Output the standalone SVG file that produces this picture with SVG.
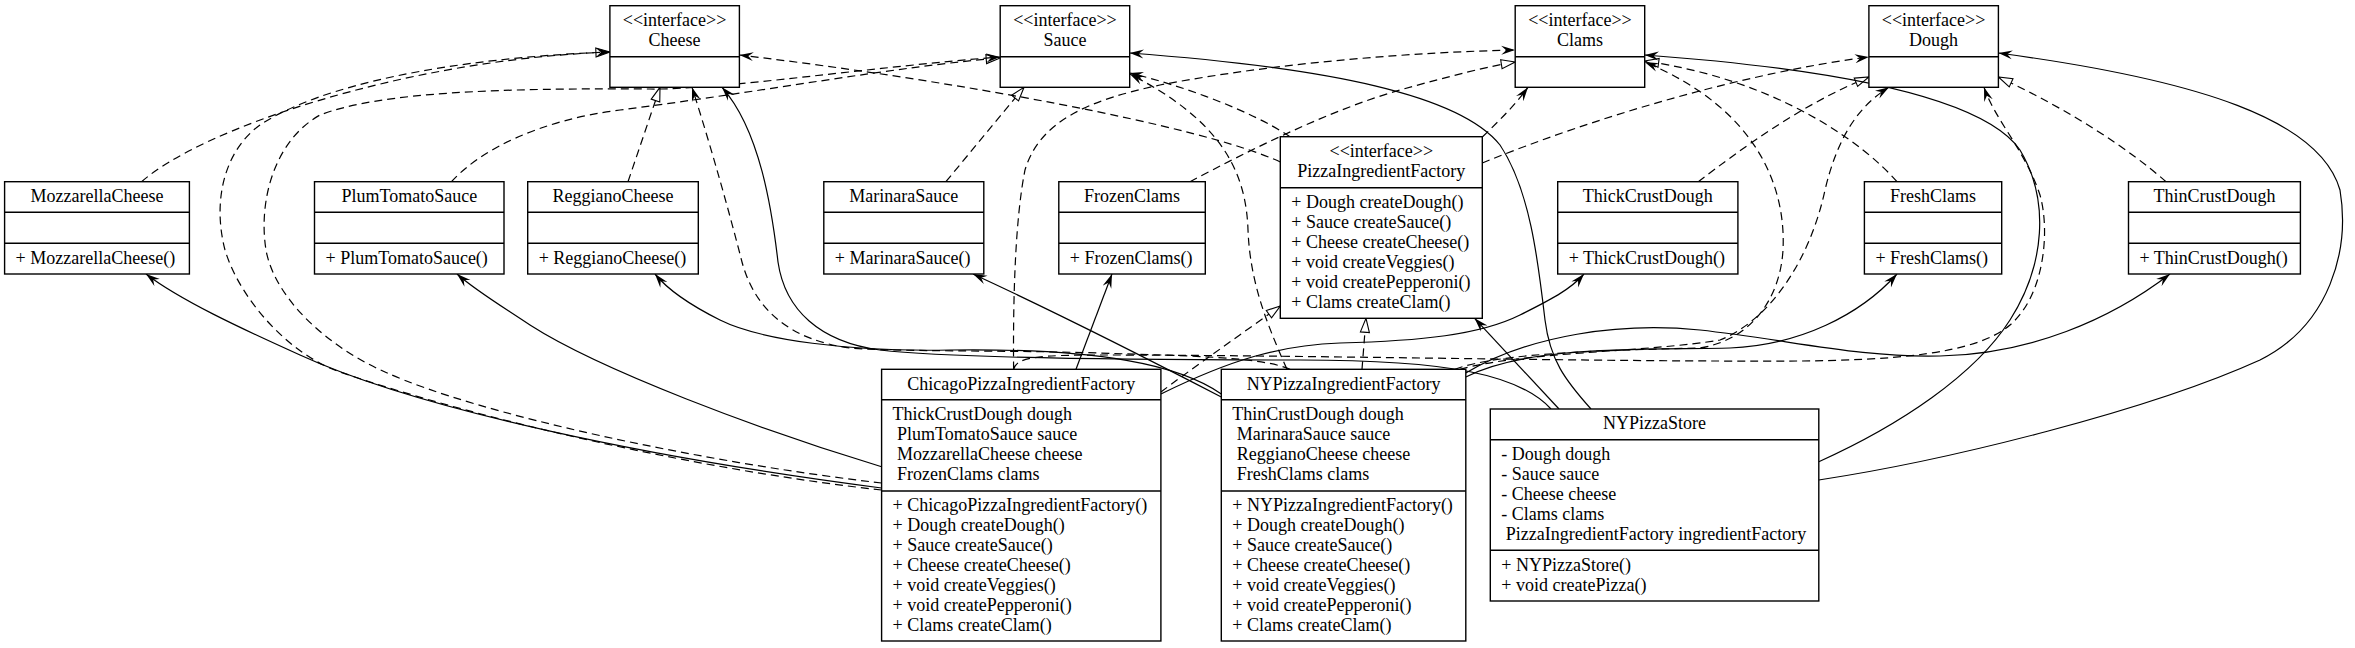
<svg xmlns="http://www.w3.org/2000/svg" width="2355" height="648" viewBox="0 0 2355 648">
<defs>
<style>
.n rect{fill:#fff;stroke:#000;stroke-width:1.4}
.n line{stroke:#000;stroke-width:1.4}
text{font-family:"Liberation Serif","Times New Roman",serif;font-size:18px;fill:#000}
.c{text-anchor:middle}
#edges path{fill:none;stroke:#000;stroke-width:1.2}
#edges path.d{stroke-dasharray:8,5}
#edges path.v{marker-end:url(#vee)}
#edges path.t{marker-end:url(#tri)}
</style>
<marker id="vee" viewBox="0 0 14 10" refX="14" refY="5" markerWidth="14" markerHeight="10" markerUnits="userSpaceOnUse" orient="auto"><path d="M0,0.5 L14,5 L0,9.5 L5,5 Z" fill="#000" stroke="none"/></marker>
<marker id="tri" viewBox="-1 -1 16 12" refX="14" refY="5" markerWidth="16" markerHeight="12" markerUnits="userSpaceOnUse" orient="auto"><path d="M0,0.5 L14,5 L0,9.5 Z" fill="#fff" stroke="#000" stroke-width="1.1" stroke-dasharray="none"/></marker>
</defs>
<rect x="0" y="0" width="2355" height="648" fill="#fff"/>

<g id="edges">
<!-- realizations -->
<path class="d t" d="M141.6,181.7 C200,130 400,60 609.9,52"/>
<path class="d t" d="M628,181.7 L660,87.3"/>
<path class="d t" d="M451.5,181.7 C480,150 540,120 620,110 C760,92 900,66 1000.2,58"/>
<path class="d t" d="M945.9,181.7 L1024,87.3"/>
<path class="d t" d="M1190,181.7 C1250,150 1330,110 1400,90 C1450,76 1490,66 1515.2,62"/>
<path class="d t" d="M1897,181.7 C1860,140 1790,95 1700,72 C1680,67 1660,63 1644.7,61"/>
<path class="d t" d="M1698.3,181.7 C1740,150 1800,105 1868.9,77"/>
<path class="d t" d="M2166,181.7 C2130,150 2070,110 1998.4,77"/>
<path class="d t" d="M1160.9,392 C1190,370 1240,335 1280.3,306"/>
<path class="d t" d="M1362,369.3 L1366,318.3"/>
<!-- dependencies -->
<path class="d v" d="M881.6,490 C700,470 480,420 340,372 C290,355 240,300 225,250 C212,200 225,150 260,125 C320,85 450,58 609.9,52"/>
<path class="d v" d="M881.6,483 C700,462 480,415 385,372 C330,348 275,300 266,250 C258,200 275,140 320,115 C380,92 500,88 650,89 C720,90 880,66 1000.2,57"/>
<path class="d v" d="M1280.3,162 C1200,125 950,80 739.4,55"/>
<path class="d v" d="M1290,136.7 C1250,110 1180,85 1129.7,73"/>
<path class="d v" d="M1287,369.3 C1265,320 1250,280 1248,230 C1246,170 1220,120 1129.7,74"/>
<path class="d v" d="M1482.3,137 C1500,120 1515,105 1528,87.3"/>
<path class="d v" d="M1482.3,163 C1600,115 1750,72 1868.9,57"/>
<path class="d v" d="M1013.6,369.3 C1013,300 1015,220 1025,170 C1040,120 1090,100 1160,85 C1280,62 1420,52 1515.2,50"/>
<path class="d v" d="M1290,369.3 C1260,356 1180,356 1100,353 C1000,350 900,352 850,348 C790,340 755,310 742,262 C730,215 712,150 692,87.3"/>
<path class="d v" d="M1455,369.3 C1500,352 1620,350 1700,348 C1750,340 1780,300 1783,250 C1786,190 1760,110 1644.7,62"/>
<path class="d v" d="M1460,369.3 C1520,352 1650,352 1720,340 C1770,320 1810,260 1825,190 C1838,135 1860,105 1889,87.3"/>
<path class="d v" d="M1013.6,369.3 C1016,357 1040,355 1100,355 C1300,355 1600,362 1800,361 C1890,360 1975,355 2010,325 C2045,295 2050,230 2040,195 C2025,150 1995,120 1984,87.3"/>
<!-- associations -->
<path class="v" d="M881.6,488 C650,458 420,410 300,355 C240,328 180,300 146,274"/>
<path class="v" d="M881.6,466.7 C760,430 600,370 530,325 C500,305 475,290 457,274"/>
<path class="v" d="M1221.3,394 C1180,365 1100,348 950,350 C850,352 760,340 720,320 C690,305 668,290 655,274"/>
<path class="v" d="M1221.3,397 C1150,360 1040,305 973,274"/>
<path class="v" d="M1076,369.3 L1112,274"/>
<path class="v" d="M1160.9,394 C1230,360 1280,345 1340,343 C1420,341 1480,335 1520,315 C1550,300 1570,290 1584,274"/>
<path class="v" d="M1465.8,377 C1530,345 1640,350 1730,348 C1800,345 1860,315 1897,274"/>
<path class="v" d="M1465.8,373 C1530,335 1620,322 1700,330 C1790,340 1860,358 1940,356 C2030,354 2110,320 2170,274"/>
<path class="v" d="M1559,409 L1474.6,318.3"/>
<path class="v" d="M1551,409 C1520,375 1450,360 1300,360 C1150,360 950,358 880,350 C820,342 785,310 778,262 C772,210 760,130 722,87.3"/>
<path class="v" d="M1591,409 C1565,380 1550,360 1545,320 C1538,260 1530,190 1500,145 C1460,95 1330,68 1129.7,53"/>
<path class="v" d="M1818.8,461.7 C1900,425 1975,375 2010,320 C2045,265 2050,200 2020,150 C1985,100 1850,70 1644.7,55"/>
<path class="v" d="M1818.8,480 C1950,460 2150,410 2260,360 C2330,325 2350,250 2340,190 C2320,120 2200,80 1998.4,53"/>
</g>

<g id="Cheese" class="n"><rect x="609.9" y="5.7" width="129.5" height="81.6"/><line x1="609.9" y1="56.7" x2="739.4" y2="56.7"/><text class="c" x="674.6" y="26.2">&lt;&lt;interface&gt;&gt;</text><text class="c" x="674.6" y="46.2">Cheese</text></g>
<g id="Sauce" class="n"><rect x="1000.2" y="5.7" width="129.5" height="81.6"/><line x1="1000.2" y1="56.7" x2="1129.7" y2="56.7"/><text class="c" x="1065" y="26.2">&lt;&lt;interface&gt;&gt;</text><text class="c" x="1065" y="46.2">Sauce</text></g>
<g id="Clams" class="n"><rect x="1515.2" y="5.7" width="129.5" height="81.6"/><line x1="1515.2" y1="56.7" x2="1644.7" y2="56.7"/><text class="c" x="1580" y="26.2">&lt;&lt;interface&gt;&gt;</text><text class="c" x="1580" y="46.2">Clams</text></g>
<g id="Dough" class="n"><rect x="1868.9" y="5.7" width="129.5" height="81.6"/><line x1="1868.9" y1="56.7" x2="1998.4" y2="56.7"/><text class="c" x="1933.6" y="26.2">&lt;&lt;interface&gt;&gt;</text><text class="c" x="1933.6" y="46.2">Dough</text></g>

<g id="MozzarellaCheese" class="n"><rect x="4.6" y="181.7" width="184.8" height="92.3"/><line x1="4.6" y1="212.3" x2="189.4" y2="212.3"/><line x1="4.6" y1="243.3" x2="189.4" y2="243.3"/><text class="c" x="97" y="202">MozzarellaCheese</text><text x="15.6" y="263.6">+ MozzarellaCheese()</text></g>
<g id="PlumTomatoSauce" class="n"><rect x="314.5" y="181.7" width="189.5" height="92.3"/><line x1="314.5" y1="212.3" x2="504" y2="212.3"/><line x1="314.5" y1="243.3" x2="504" y2="243.3"/><text class="c" x="409.3" y="202">PlumTomatoSauce</text><text x="325.5" y="263.6">+ PlumTomatoSauce()</text></g>
<g id="ReggianoCheese" class="n"><rect x="527.7" y="181.7" width="170.6" height="92.3"/><line x1="527.7" y1="212.3" x2="698.3" y2="212.3"/><line x1="527.7" y1="243.3" x2="698.3" y2="243.3"/><text class="c" x="613" y="202">ReggianoCheese</text><text x="538.7" y="263.6">+ ReggianoCheese()</text></g>
<g id="MarinaraSauce" class="n"><rect x="823.8" y="181.7" width="160" height="92.3"/><line x1="823.8" y1="212.3" x2="983.8" y2="212.3"/><line x1="823.8" y1="243.3" x2="983.8" y2="243.3"/><text class="c" x="903.8" y="202">MarinaraSauce</text><text x="834.8" y="263.6">+ MarinaraSauce()</text></g>
<g id="FrozenClams" class="n"><rect x="1058.8" y="181.7" width="146.5" height="92.3"/><line x1="1058.8" y1="212.3" x2="1205.3" y2="212.3"/><line x1="1058.8" y1="243.3" x2="1205.3" y2="243.3"/><text class="c" x="1132" y="202">FrozenClams</text><text x="1069.8" y="263.6">+ FrozenClams()</text></g>
<g id="ThickCrustDough" class="n"><rect x="1557.7" y="181.7" width="180.2" height="92.3"/><line x1="1557.7" y1="212.3" x2="1737.9" y2="212.3"/><line x1="1557.7" y1="243.3" x2="1737.9" y2="243.3"/><text class="c" x="1647.8" y="202">ThickCrustDough</text><text x="1568.7" y="263.6">+ ThickCrustDough()</text></g>
<g id="FreshClams" class="n"><rect x="1864.4" y="181.7" width="137.3" height="92.3"/><line x1="1864.4" y1="212.3" x2="2001.7" y2="212.3"/><line x1="1864.4" y1="243.3" x2="2001.7" y2="243.3"/><text class="c" x="1933" y="202">FreshClams</text><text x="1875.4" y="263.6">+ FreshClams()</text></g>
<g id="ThinCrustDough" class="n"><rect x="2128.5" y="181.7" width="171.9" height="92.3"/><line x1="2128.5" y1="212.3" x2="2300.4" y2="212.3"/><line x1="2128.5" y1="243.3" x2="2300.4" y2="243.3"/><text class="c" x="2214.5" y="202">ThinCrustDough</text><text x="2139.5" y="263.6">+ ThinCrustDough()</text></g>

<g id="PizzaIngredientFactory" class="n"><rect x="1280.3" y="136.7" width="202" height="181.6"/><line x1="1280.3" y1="187.7" x2="1482.3" y2="187.7"/><text class="c" x="1381.3" y="157.2">&lt;&lt;interface&gt;&gt;</text><text class="c" x="1381.3" y="177.2">PizzaIngredientFactory</text><text x="1291.3" y="208">+ Dough createDough()</text><text x="1291.3" y="228">+ Sauce createSauce()</text><text x="1291.3" y="248">+ Cheese createCheese()</text><text x="1291.3" y="268">+ void createVeggies()</text><text x="1291.3" y="288">+ void createPepperoni()</text><text x="1291.3" y="308">+ Clams createClam()</text></g>

<g id="ChicagoPizzaIngredientFactory" class="n"><rect x="881.6" y="369.3" width="279.3" height="271.7"/><line x1="881.6" y1="399.7" x2="1160.9" y2="399.7"/><line x1="881.6" y1="491" x2="1160.9" y2="491"/><text class="c" x="1021.3" y="389.5">ChicagoPizzaIngredientFactory</text><text x="892.6" y="420.3">ThickCrustDough dough</text><text x="897.1" y="440.3">PlumTomatoSauce sauce</text><text x="897.1" y="460.3">MozzarellaCheese cheese</text><text x="897.1" y="480.3">FrozenClams clams</text><text x="892.6" y="511">+ ChicagoPizzaIngredientFactory()</text><text x="892.6" y="531">+ Dough createDough()</text><text x="892.6" y="551">+ Sauce createSauce()</text><text x="892.6" y="571">+ Cheese createCheese()</text><text x="892.6" y="591">+ void createVeggies()</text><text x="892.6" y="611">+ void createPepperoni()</text><text x="892.6" y="631">+ Clams createClam()</text></g>

<g id="NYPizzaIngredientFactory" class="n"><rect x="1221.3" y="369.3" width="244.5" height="271.7"/><line x1="1221.3" y1="399.7" x2="1465.8" y2="399.7"/><line x1="1221.3" y1="491" x2="1465.8" y2="491"/><text class="c" x="1343.6" y="389.5">NYPizzaIngredientFactory</text><text x="1232.3" y="420.3">ThinCrustDough dough</text><text x="1236.8" y="440.3">MarinaraSauce sauce</text><text x="1236.8" y="460.3">ReggianoCheese cheese</text><text x="1236.8" y="480.3">FreshClams clams</text><text x="1232.3" y="511">+ NYPizzaIngredientFactory()</text><text x="1232.3" y="531">+ Dough createDough()</text><text x="1232.3" y="551">+ Sauce createSauce()</text><text x="1232.3" y="571">+ Cheese createCheese()</text><text x="1232.3" y="591">+ void createVeggies()</text><text x="1232.3" y="611">+ void createPepperoni()</text><text x="1232.3" y="631">+ Clams createClam()</text></g>

<g id="NYPizzaStore" class="n"><rect x="1490.3" y="409" width="328.5" height="192"/><line x1="1490.3" y1="439.7" x2="1818.8" y2="439.7"/><line x1="1490.3" y1="550.3" x2="1818.8" y2="550.3"/><text class="c" x="1654.6" y="429.3">NYPizzaStore</text><text x="1501.3" y="460">- Dough dough</text><text x="1501.3" y="480">- Sauce sauce</text><text x="1501.3" y="500">- Cheese cheese</text><text x="1501.3" y="520">- Clams clams</text><text x="1505.8" y="540">PizzaIngredientFactory ingredientFactory</text><text x="1501.3" y="570.6">+ NYPizzaStore()</text><text x="1501.3" y="590.6">+ void createPizza()</text></g>
</svg>
